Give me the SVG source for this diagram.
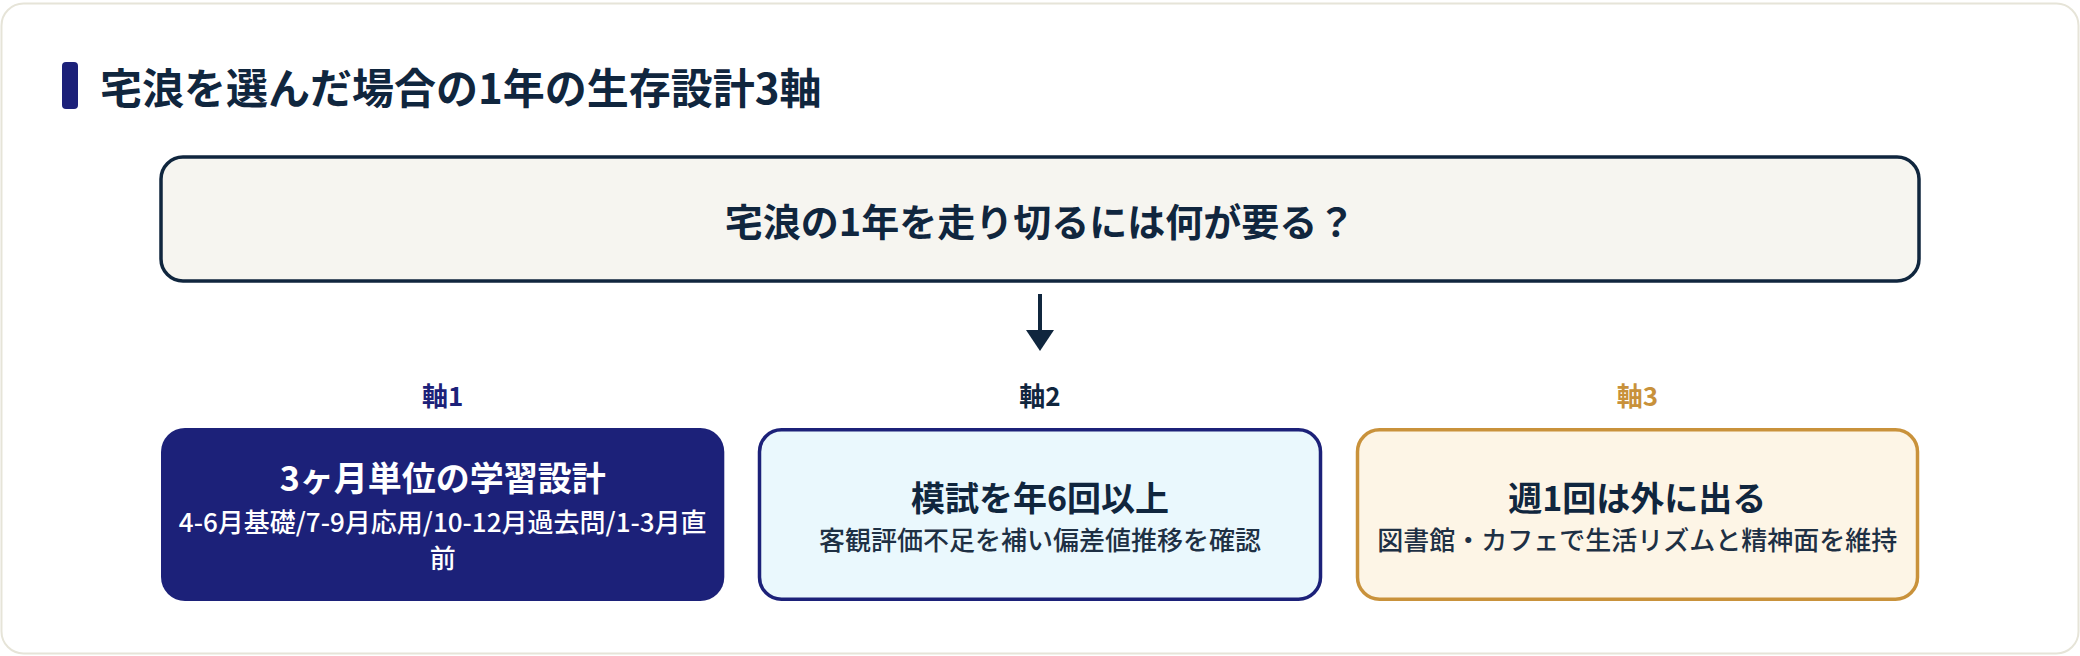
<svg xmlns="http://www.w3.org/2000/svg" width="2080" height="656" viewBox="0 0 2080 656">
<style>
text{font-family:"Noto Sans CJK JP","Noto Sans",sans-serif;text-anchor:middle}
.b{font-weight:700}
.ttl{font-size:42px;fill:#10263e;text-anchor:start}
.q{font-size:38px;fill:#10263e}
.ax{font-size:26px}
.bt{font-size:34px}
.bs{font-size:26px;font-weight:500}
.dk{fill:#10263e}
</style>
<rect x="1.5" y="3.5" width="2077" height="650" rx="22" fill="#ffffff" stroke="#e6e4d8" stroke-width="2"/>
<g id="title">
<rect x="62" y="62" width="16" height="47" rx="4" fill="#1c2179"/>
<text class="ttl b" x="100" y="104">宅浪を選んだ場合の1年の生存設計3軸</text>
</g>
<g id="question">
<rect x="161" y="157" width="1758" height="124" rx="22" fill="#f6f5f0" stroke="#10263e" stroke-width="3.5"/>
<text class="q b" x="1040" y="236">宅浪の1年を走り切るには何が要る？</text>
</g>
<g id="connectors">
<line x1="1040" y1="294" x2="1040" y2="330" stroke="#10263e" stroke-width="4"/>
<polygon points="1026,330 1054,330 1040,351" fill="#10263e"/>
</g>
<g id="axis1">
<text class="ax b" x="442.7" y="406" fill="#1c2179">軸1</text>
<rect x="161" y="428" width="563.3" height="173" rx="24" fill="#1c2179"/>
<text class="bt b" x="442.7" y="491" fill="#ffffff">3ヶ月単位の学習設計</text>
<text class="bs" x="442.7" y="532" fill="#ffffff">4-6月基礎/7-9月応用/10-12月過去問/1-3月直</text>
<text class="bs" x="442.7" y="568" fill="#ffffff">前</text>
</g>
<g id="axis2">
<text class="ax b dk" x="1040" y="406">軸2</text>
<rect x="759.5" y="429.75" width="561" height="169.5" rx="22" fill="#eaf8fd" stroke="#1c2179" stroke-width="3.5"/>
<text class="bt b dk" x="1040" y="511">模試を年6回以上</text>
<text class="bs" x="1040" y="550" fill="#1e3044">客観評価不足を補い偏差値推移を確認</text>
</g>
<g id="axis3">
<text class="ax b" x="1637.3" y="406" fill="#c8913a">軸3</text>
<rect x="1357.5" y="429.75" width="560" height="169.5" rx="22" fill="#fdf5e6" stroke="#c9923b" stroke-width="3.5"/>
<text class="bt b dk" x="1637.3" y="511">週1回は外に出る</text>
<text class="bs" x="1637.3" y="550" fill="#1e3044">図書館・カフェで生活リズムと精神面を維持</text>
</g>
</svg>
